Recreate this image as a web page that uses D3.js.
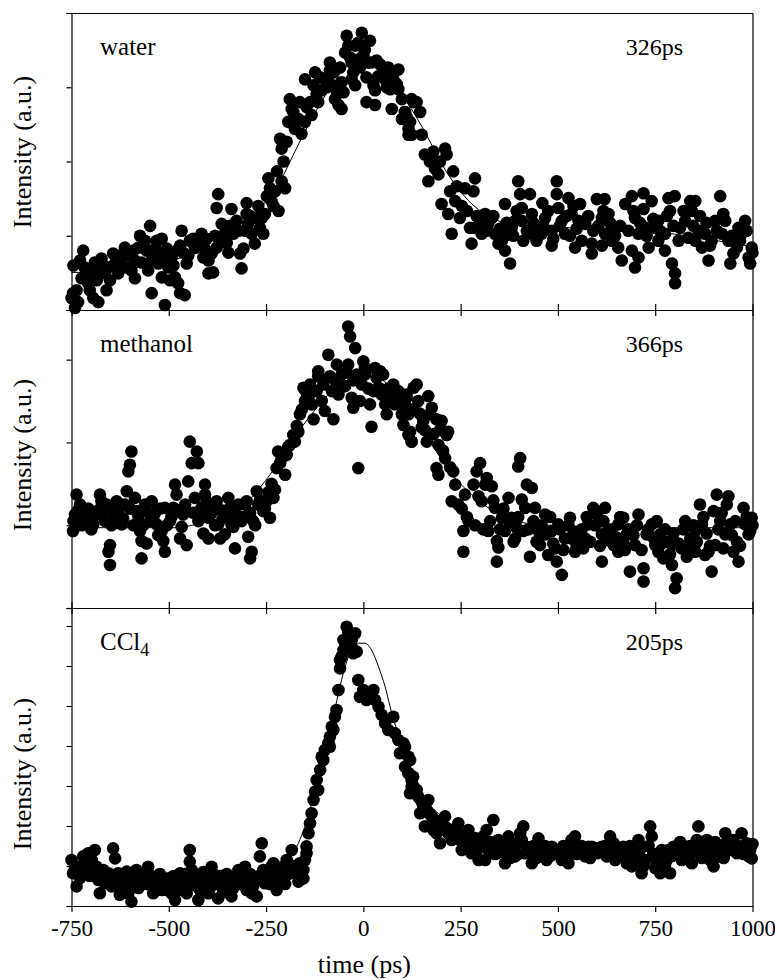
<!DOCTYPE html>
<html>
<head>
<meta charset="utf-8">
<script src="https://cdn.jsdelivr.net/npm/d3@7"></script>
<style>
  body { margin: 0; background: #fff; }
  svg text { font-family: "Liberation Serif", "Times New Roman", serif; fill: #000; }
</style>
</head>
<body>
<div id="chart"></div>
<script>
// time delay (ps) vs intensity (a.u.), three solvents

var timeTicks = [-750, -500, -250, 0, 250, 500, 750, 1000];

var solventNames = ["water", "methanol", "CCl"];
var decayLabels = ["326ps", "366ps", "205ps"];

var waterFit = [[-750,38],[-733,38],[-467,53],[-356,70],[-287,93],[-244,113],[-210,133],[-176,160],[-133,193],[-81,227],[-39,247],[4,253],[47,248],[90,223],[133,197],[158,180],[202,147],[243,123],[279,107],[313,97],[364,88],[449,85],[536,83],[621,82],[706,80],[793,77],[878,72],[1000,64]];

var waterPts = [[-746,17],[-741,2],[-733,8],[-750,12],[-737,20],[-720,60],[-716,43],[-724,32],[-707,27],[-703,20],[-694,12],[-681,8],[-690,48],[-673,52],[-681,38],[-664,37],[-660,20],[-656,43],[-643,57],[-638,47],[-630,37],[-626,53],[-613,63],[-608,43],[-596,40],[-587,32],[-587,50],[-578,63],[-574,75],[-561,70],[-548,85],[-557,60],[-540,57],[-544,50],[-531,70],[-518,72],[-527,47],[-518,33],[-510,52],[-501,43],[-493,53],[-497,30],[-484,33],[-476,27],[-471,17],[-459,15],[-510,5],[-544,17],[-467,80],[-471,65],[-454,47],[-446,70],[-433,63],[-416,77],[-407,62],[-411,53],[-398,50],[-398,37],[-386,38],[-390,57],[-377,63],[-373,117],[-377,103],[-364,87],[-356,77],[-347,58],[-339,102],[-334,77],[-321,80],[-317,57],[-313,42],[-308,62],[-300,108],[-300,97],[-296,87],[-287,77],[-279,67],[-274,93],[-266,83],[-257,77],[-261,93],[-253,97],[-244,133],[-240,123],[-236,110],[-227,120],[-218,100],[-210,130],[-201,123],[-214,173],[-210,163],[-197,170],[-189,213],[-184,203],[-176,183],[-167,193],[-159,178],[-150,190],[-150,233],[-137,210],[-133,197],[-120,218],[-107,222],[-94,225],[-86,250],[-86,242],[-81,227],[-73,213],[-64,207],[-56,203],[-51,220],[-43,277],[-47,260],[-30,250],[-30,233],[-21,227],[-21,267],[-4,280],[0,257],[17,272],[-13,253],[8,235],[26,227],[30,222],[8,210],[30,207],[43,248],[64,245],[90,243],[81,230],[69,223],[73,203],[99,213],[116,183],[124,177],[129,210],[99,193],
  [-39,267],[-13,270],[4,263],[21,250],[34,252],[51,240],[56,233],[77,238],[90,223],[107,200],[-56,230],[-68,220],[-99,233],[-116,210],[-128,227],
  [107,200],[124,213],[137,210],[146,200],[116,177],[120,190],[150,177],[158,157],[171,150],[210,163],[214,157],[167,130],[184,143],[193,137],[231,140],[261,123],[287,133],[283,120],[201,107],[236,110],[218,97],[227,77],[248,93],[274,83],[278,67],[313,97],[321,87],[338,77],[347,67],[364,60],[377,47],[364,107],[381,83],[398,130],[403,117],[407,103],[411,70],[428,117],[433,97],[450,83],[458,77],[467,93],[484,80],[497,130],[497,117],[501,103],[518,77],[527,113],[535,97],[544,63],[557,107],[570,87],[587,67],[600,112],[613,93],[621,77],[638,80],[655,63],[664,50],[673,107],[690,115],[698,93],[707,77],[720,102],[733,63],[741,110],[750,83],[758,70],[784,113],[788,100],[775,77],[793,47],[801,37],[801,27],[814,83],[827,90],[840,110],[844,100],[853,70],[870,63],[878,77],[887,50],[904,90],[917,115],[925,97],[938,70],[951,57],[960,63],[972,77],[981,90],[990,53],[998,63],[994,47],[943,47],[707,53],[698,43],[587,57],[613,65],[484,65],[433,77],[364,75],[356,70],[304,77],[287,83],[330,93],[407,90],[553,90],[630,97],[758,90],[861,80],[853,110],[921,77],[390,90],[510,90],[638,70],[724,83],[835,73],[895,70],[964,83],
  [-745,45],[-728,50],[-712,35],[-699,40],[-685,30],[-668,45],[-651,30],[-634,55],[-620,45],[-603,55],[-591,60],[-570,48],[-553,40],[-535,62],[-522,55],[-505,62],[-488,45],[-480,60],[-463,58],[-450,55],[-437,72],[-424,68],[-403,72],[-381,75],[-368,70],[-351,68],[-343,85],[-326,90],[-304,80],[-291,95],[-270,105],[-248,115],[-231,105],[-222,140],[-205,150],[-193,190],[-180,200],[-163,210],[-146,205],[-124,240],[-111,235],[-90,235],[-77,240],[-60,245],[-34,255],[-26,240],[-9,245],[13,250],[38,236],[60,225],[86,228],[111,195],
  [180,160],[197,150],[223,120],[240,125],[253,105],[266,100],[291,95],[300,88],[317,80],[334,95],[351,82],[368,88],[385,75],[394,100],[420,80],[437,88],[445,70],[462,85],[475,100],[488,72],[505,85],[522,95],[531,75],[548,82],[561,70],[578,95],[591,80],[604,85],[617,100],[634,88],[647,75],[660,85],[681,80],[694,100],[711,88],[728,75],[745,92],[762,80],[780,95],[797,85],[810,70],[823,100],[848,85],[865,95],[882,88],[891,65],[908,80],[930,90],[947,75],[968,70],[985,80],[1000,58],[775,60],[690,60],[540,105],[460,108],[620,112],[800,115],[720,118]];

var methanolFit = [[-750,97],[-484,97],[-381,109],[-304,125],[-253,153],[-210,181],[-167,213],[-133,234],[-90,258],[-56,274],[-21,282],[4,286],[47,276],[90,258],[124,238],[193,185],[236,157],[278,137],[321,121],[390,105],[450,101],[535,99],[750,97],[1000,97]];

var methanolPts = [[-746,93],[-741,113],[-737,137],[-728,125],[-720,117],[-716,105],[-703,109],[-694,101],[-686,113],[-677,137],[-673,129],[-660,125],[-664,105],[-655,68],[-651,76],[-651,52],[-643,117],[-634,129],[-626,125],[-621,101],[-608,141],[-604,165],[-600,173],[-596,189],[-587,133],[-583,117],[-574,93],[-570,81],[-570,60],[-557,78],[-557,117],[-544,129],[-540,109],[-531,101],[-518,93],[-514,81],[-510,121],[-510,68],[-497,105],[-488,121],[-484,149],[-480,137],[-471,84],[-463,113],[-454,76],[-450,153],[-446,201],[-441,175],[-428,189],[-424,175],[-433,133],[-424,105],[-416,121],[-407,149],[-407,137],[-398,109],[-398,84],[-386,125],[-377,129],[-373,101],[-368,84],[-360,109],[-356,89],[-347,133],[-343,121],[-339,101],[-330,72],[-326,113],[-313,105],[-304,125],[-300,129],[-296,86],[-291,60],[-287,68],[-283,105],[-274,141],[-270,125],[-257,117],[-249,129],[-240,109],[-231,133],[-227,143],[-223,169],[-219,189],[-210,181],[-201,161],[-197,185],[-189,197],[-180,209],[-176,201],[-167,213],[-163,234],[-154,266],[-150,250],[-141,254],[-133,246],[-128,228],[-116,286],[-116,280],[-107,250],[-99,238],[-90,306],[-81,262],[-77,228],[-68,294],[-64,258],[-56,282],[-47,268],[-39,340],[-34,328],[-39,294],[-30,254],[-26,242],[-21,314],[-17,282],[-13,169],[-9,250],[0,298],[4,290],[4,282],[17,246],[21,219],[30,290],[34,278],[43,286],[39,266],[51,282],[56,246],[60,234],[69,258],[77,270],[81,246],[90,262],[99,234],[103,221],[111,254],[116,209],[124,201],[129,266],
  [111,258],[116,234],[120,213],[124,201],[137,270],[141,250],[150,218],[154,226],[163,201],[167,256],[171,234],[176,242],[188,228],[193,197],[201,226],[210,181],[214,209],[218,213],[188,169],[193,161],[231,165],[236,149],[227,129],[244,125],[261,137],[257,93],[270,105],[257,68],[283,149],[291,165],[300,175],[304,129],[313,149],[317,157],[330,147],[338,121],[343,81],[347,73],[343,56],[356,109],[364,93],[373,133],[381,109],[394,97],[403,181],[398,171],[407,131],[411,93],[416,121],[420,149],[428,62],[433,145],[441,121],[450,93],[454,76],[467,113],[475,64],[484,93],[493,72],[497,56],[501,101],[510,40],[518,84],[531,109],[544,68],[553,89],[565,72],[578,101],[591,121],[600,113],[613,56],[621,121],[630,93],[643,76],[655,101],[668,109],[677,89],[685,44],[698,76],[707,113],[720,48],[720,32],[728,89],[741,101],[750,76],[763,89],[771,60],[784,80],[793,52],[801,24],[805,36],[818,72],[827,105],[840,84],[853,93],[865,125],[870,101],[878,64],[887,68],[895,44],[900,117],[908,137],[917,105],[925,72],[934,125],[938,135],[943,101],[951,68],[960,80],[964,56],[977,121],[981,101],[990,89],[998,109],[994,93],
  [467,89],[535,84],[613,89],[668,80],[758,68],[835,76],[930,89],[321,93],[390,84],[570,84],[655,68],[793,76],[904,76],[853,68],
  [-745,105],[-733,118],[-724,100],[-707,120],[-699,95],[-690,112],[-681,118],[-668,115],[-647,100],[-638,110],[-630,115],[-617,108],[-613,125],[-600,120],[-591,100],[-578,110],[-566,100],[-561,125],[-548,105],[-535,115],[-527,88],[-522,120],[-505,100],[-493,110],[-475,118],[-467,98],[-458,125],[-437,115],[-420,110],[-411,90],[-403,128],[-390,115],[-381,100],[-364,118],[-351,112],[-334,98],[-321,125],[-308,110],[-291,115],[-278,100],[-266,130],[-253,120],[-244,140],[-236,150],
  [-214,175],[-193,195],[-171,220],[-158,240],[-146,260],[-137,270],[-120,262],[-103,270],[-86,280],[-73,275],[-60,265],[-43,285],[-26,275],[-4,270],[13,265],[26,262],[47,258],[64,265],[86,250],[107,245],[128,240],[145,235],[158,215],[180,210],[197,215],[205,190],[223,170],
  [253,120],[266,110],[287,100],[296,135],[308,95],[326,105],[334,130],[351,95],[360,120],[377,100],[386,80],[398,110],[424,95],[437,105],[445,80],[458,100],[471,90],[480,110],[488,78],[505,95],[514,70],[527,100],[540,92],[548,75],[561,95],[574,110],[583,80],[595,100],[608,75],[617,105],[625,82],[638,95],[651,85],[660,110],[672,70],[681,95],[694,88],[703,100],[715,70],[732,95],[745,85],[754,105],[767,78],[775,95],[788,65],[797,90],[810,78],[822,95],[831,62],[848,100],[857,80],[874,110],[882,90],[891,75],[912,95],[921,115],[947,88],[956,105],[968,75],[985,110],[1000,100]];

var ccl4Fit = [[-750,75],[-253,75],[-219,86],[-184,124],[-167,157],[-150,199],[-124,290],[-99,390],[-81,457],[-64,532],[-47,598],[-30,640],[-13,657],[4,657],[21,640],[39,598],[56,548],[73,482],[100,400],[125,330],[150,280],[200,225],[250,190],[320,165],[420,152],[535,146],[750,144],[1000,144]];

var ccl4Pts = [[-750,115],[-746,82],[-737,49],[-733,98],[-724,82],[-720,124],[-711,107],[-707,132],[-698,115],[-690,140],[-686,98],[-681,65],[-677,32],[-673,82],[-664,57],[-655,82],[-647,49],[-643,144],[-638,119],[-630,82],[-626,28],[-617,61],[-608,86],[-604,32],[-596,11],[-591,53],[-583,90],[-574,65],[-566,74],[-553,98],[-548,65],[-540,32],[-536,49],[-527,61],[-518,40],[-510,53],[-501,69],[-493,32],[-484,15],[-480,53],[-471,82],[-463,65],[-454,32],[-446,140],[-446,111],[-437,74],[-428,49],[-424,15],[-416,57],[-407,74],[-398,32],[-390,98],[-381,65],[-373,19],[-364,49],[-356,65],[-347,40],[-339,24],[-330,57],[-321,90],[-313,74],[-304,98],[-296,49],[-287,32],[-279,65],[-274,24],[-266,124],[-261,157],[-253,57],[-244,82],[-236,98],[-231,107],[-223,40],[-214,65],[-206,98],[-197,115],[-189,90],[-184,140],[-176,82],[-167,61],[-163,107],[-159,74],[-154,69],[-150,115],[-146,149],[-141,182],[-137,207],[-133,232],[-128,265],[-124,286],[-116,290],[-111,340],[-107,373],[-99,390],[-90,407],[-86,423],[-81,448],[-73,473],[-69,490],[-64,540],[-60,594],[-56,623],[-51,640],[-47,665],[-43,698],[-34,682],[-30,648],[-21,682],[-17,636],[-13,565],[-9,523],[0,540],[8,515],[17,532],[26,540],[30,515],[39,498],[47,478],[56,457],[64,440],[77,473],[81,432],[90,415],[94,382],[103,407],[107,348],[116,332],[124,315],[120,282],
  [-163,65],[-154,90],[-146,132],[-120,315],[-103,365],[-86,398],[-77,440],[-51,665],[-39,686],[-30,665],[-26,632],[-60,615],
  [107,398],[116,373],[116,332],[124,298],[128,323],[141,273],[146,232],[158,199],[167,265],[176,224],[184,215],[188,182],[197,157],[201,199],[210,224],[218,182],[236,190],[244,207],[253,140],[261,174],[270,190],[283,148],[296,115],[308,174],[317,190],[330,148],[334,215],[343,132],[356,157],[364,107],[373,174],[381,132],[394,157],[403,182],[411,199],[420,148],[433,107],[441,140],[450,169],[463,132],[471,115],[484,148],[497,140],[510,115],[527,107],[535,165],[544,174],[557,140],[570,124],[587,148],[600,132],[613,148],[625,124],[634,174],[643,157],[655,124],[668,148],[677,107],[690,99],[703,140],[707,165],[715,82],[724,115],[737,199],[741,174],[754,107],[763,82],[771,132],[780,115],[788,82],[797,148],[810,132],[818,115],[831,148],[844,107],[857,165],[861,199],[874,140],[883,165],[891,115],[900,99],[908,148],[921,124],[930,182],[938,148],[951,165],[960,132],[972,182],[981,148],[990,124],[998,119],
  [120,365],[154,249],[180,190],[227,165],[278,132],[313,115],[347,165],[390,124],[416,132],[475,132],[518,132],[578,148],[630,140],[690,132],[758,124],[835,132],[878,132],[913,124],[955,148],[985,157],
  [-741,95],[-728,70],[-716,90],[-703,75],[-694,100],[-677,70],[-668,90],[-651,65],[-634,70],[-621,50],[-613,75],[-600,60],[-587,70],[-578,45],[-561,80],[-557,55],[-544,75],[-531,45],[-523,80],[-514,65],[-505,40],[-497,60],[-488,75],[-476,40],[-467,65],[-458,80],[-450,55],[-441,90],[-433,60],[-420,40],[-411,85],[-403,60],[-394,45],[-386,80],[-377,55],[-368,75],[-360,35],[-351,80],[-343,60],[-334,45],[-326,75],[-317,55],[-308,70],[-300,40],[-291,80],[-283,50],[-270,75],[-257,90],[-248,65],[-240,55],[-227,80],[-218,95],[-210,75],[-201,55],[-193,80],[-180,100],[-171,90],
  [257,165],[265,150],[274,160],[287,170],[291,135],[300,150],[321,140],[326,160],[338,130],[351,145],[360,135],[368,150],[377,120],[386,145],[398,130],[407,165],[424,135],[437,150],[445,120],[454,145],[467,150],[480,125],[488,140],[501,130],[514,150],[522,125],[531,145],[548,130],[561,150],[574,140],[583,120],[595,145],[608,135],[621,150],[638,135],[647,115],[660,140],[673,125],[685,150],[698,120],[711,140],[720,100],[733,150],[745,130],[750,95],[767,140],[775,100],[784,140],[793,125],[805,140],[814,160],[827,125],[840,150],[848,135],[865,150],[870,120],[887,150],[895,130],[904,160],[917,145],[926,120],[934,160],[947,140],[964,150],[977,130],[994,140],[1000,155],
  [128,300],[137,290],[150,260],[163,240],[171,230],[193,210],[205,200],[214,195],[231,175],[240,185],[248,165]];

var width = 775, height = 980;
var left = 71.5, right = 752.5;

var panels = [
  { name: solventNames[0], tau: decayLabels[0], pts: waterPts, fit: waterFit, top: 13, bottom: 310, max: 300, step: 75, labelY: 152 },
  { name: solventNames[1], tau: decayLabels[1], pts: methanolPts, fit: methanolFit, top: 310, bottom: 608, max: 360, step: 100, labelY: 455 },
  { name: solventNames[2], sub: "4", tau: decayLabels[2], pts: ccl4Pts, fit: ccl4Fit, top: 608, bottom: 906, max: 745, step: 100, labelY: 774 }
];

var svg = d3.select("#chart").append("svg")
    .attr("width", width)
    .attr("height", height)
    .attr("font-family", "'Liberation Serif', 'Times New Roman', serif");

var x = d3.scaleLinear().domain([-750, 1000]).range([left, right]);

panels.forEach(function(p, i) {
    var y = d3.scaleLinear().domain([0, p.max]).range([p.bottom, p.top]);
    var g = svg.append("g");

    // fit curve under the dots
    var line = d3.line()
        .x(function(d) { return x(d[0]); })
        .y(function(d) { return y(d[1]); })
        .curve(d3.curveMonotoneX);
    g.append("path")
        .datum(p.fit)
        .attr("d", line)
        .attr("fill", "none")
        .attr("stroke", "#000")
        .attr("stroke-width", 1);

    g.selectAll("circle")
        .data(p.pts).enter()
        .append("circle")
        .attr("cx", function(d) { return x(d[0]); })
        .attr("cy", function(d) { return y(d[1]); })
        .attr("r", 6.3)
        .attr("fill", "#000");

    // frame
    var yTicks = d3.range(0, p.max + 1, p.step);
    g.append("g")
        .attr("transform", "translate(" + left + ",0)")
        .call(d3.axisLeft(y).tickValues(yTicks).tickSize(5).tickFormat(""));
    g.append("g")
        .attr("transform", "translate(" + right + ",0)")
        .call(d3.axisRight(y).tickValues([]).tickSize(0));

    var bottomAxis = d3.axisBottom(x).tickValues(timeTicks).tickSizeInner(6).tickSizeOuter(0).tickPadding(8);
    if (i < panels.length - 1) bottomAxis.tickFormat("");
    else bottomAxis.tickFormat(function(d) { return String(d); });
    var xb = g.append("g")
        .attr("transform", "translate(0," + p.bottom + ")")
        .call(bottomAxis);
    xb.selectAll("text")
        .attr("font-family", null)
        .style("font-size", "23px");

    var topAxis = d3.axisTop(x).tickValues(i === 0 ? [] : timeTicks)
        .tickSizeInner(6).tickSizeOuter(0).tickFormat("");
    g.append("g")
        .attr("transform", "translate(0," + p.top + ")")
        .call(topAxis);

    g.selectAll(".domain").attr("stroke", "#000").attr("stroke-width", 1.2);
    g.selectAll(".tick line").attr("stroke", "#000").attr("stroke-width", 1.2);

    // labels
    var lab = g.append("text")
        .attr("x", 100)
        .attr("y", p.top + 42)
        .style("font-size", "25px")
        .text(p.name);
    if (p.sub) {
        lab.append("tspan")
            .attr("dy", 6)
            .style("font-size", "18px")
            .text(p.sub);
    }
    g.append("text")
        .attr("x", 683)
        .attr("y", p.top + 42)
        .attr("text-anchor", "end")
        .style("font-size", "24px")
        .text(p.tau);

    g.append("text")
        .attr("transform", "translate(31," + p.labelY + ") rotate(-90)")
        .attr("text-anchor", "middle")
        .style("font-size", "26px")
        .text("Intensity (a.u.)");
});

svg.append("text")
    .attr("x", x(0) + 1)
    .attr("y", 973)
    .attr("text-anchor", "middle")
    .style("font-size", "26px")
    .text("time (ps)");
</script>
</body>
</html>
